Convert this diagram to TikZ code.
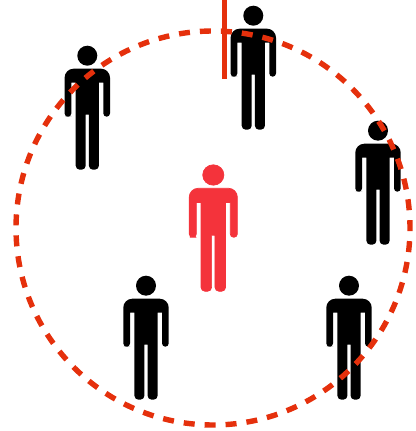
\documentclass[tikz,border=0pt]{standalone}
\definecolor{ringred}{HTML}{E5300C}
\definecolor{centrered}{HTML}{F4333B}
\tikzset{
  x=1pt,y=1pt,
  ring/.style={draw=ringred,line width=5.4pt,dash pattern=on 11pt off 9.98pt},
  marker/.style={draw=ringred,line width=5.2pt},
  pics/person/.style={code={
    \fill[#1] (0,0) circle[radius=10];
    \fill[#1] (-19,-61) [rounded corners=3.3] -- (-22.7,-61) [rounded corners=9] -- (-22.7,-13) -- (22.7,-13) [rounded corners=3.3] -- (22.7,-61) -- (16,-61) [sharp corners] -- (16,-27) -- (11.6,-27) [rounded corners=4] -- (11.6,-114) -- (1.6,-114) [sharp corners] -- (1.6,-59) -- (-1.6,-59) [rounded corners=4] -- (-1.6,-114) -- (-11.6,-114) [sharp corners] -- (-11.6,-27) -- (-16,-27) [rounded corners=3.3] -- (-16,-61) -- cycle;
  }}
}
\begin{document}
\begin{tikzpicture}
\useasboundingbox (0,0) rectangle (415,431);
\coordinate (centre) at (213,203);
\coordinate (markertop) at (224.7,431);
\coordinate (markerend) at (224.7,351.7);
\path (213.3,256) pic[xscale=1.06,yscale=1.02] {person={centrered,draw=centrered,line width=.7pt}};
\path (253.3,415.3) pic {person={black}};
\path (87.3,375.3) pic {person={black}};
\path (378,300.3) pic {person={black}};
\path (349,145.3) pic {person={black}};
\path (146,145.3) pic {person={black}};
\draw[ring] ([shift={(87.7:197)}]centre) arc[start angle=87.7,delta angle=-360,radius=197];
\draw[marker] (markertop) -- (markerend);
\end{tikzpicture}
\end{document}
